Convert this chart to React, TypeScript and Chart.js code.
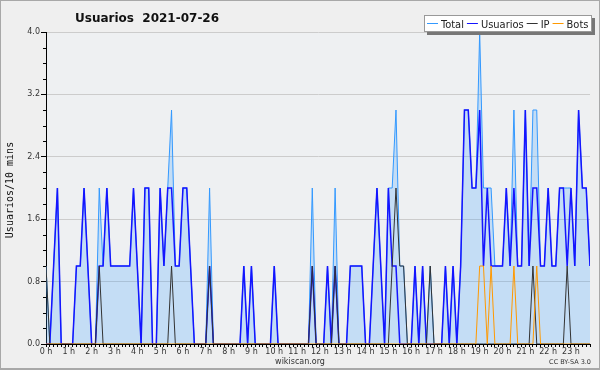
import React, { useEffect, useRef } from 'react';
import { Chart, registerables } from 'chart.js';

Chart.register(...registerables);

// 10-minute slots, 144 per day (index 0 = 00:00)
const usuarios = [
  0, 0, 1, 2, 0, 0, 0, 0, 1, 1, 2, 1,
  0, 0, 1, 1, 2, 1, 1, 1, 1, 1, 1, 2,
  1, 0, 2, 2, 0, 0, 2, 1, 2, 2, 1, 1,
  2, 2, 1, 0, 0, 0, 0, 1, 0, 0, 0, 0,
  0, 0, 0, 0, 1, 0, 1, 0, 0, 0, 0, 0,
  1, 0, 0, 0, 0, 0, 0, 0, 0, 0, 1, 0,
  0, 0, 1, 0, 1, 0, 0, 0, 1, 1, 1, 1,
  0, 0, 1, 2, 1, 0, 2, 1, 1, 0, 0, 0,
  0, 1, 0, 1, 0, 0, 0, 0, 0, 1, 0, 1,
  0, 1, 3, 3, 2, 2, 3, 1, 2, 1, 1, 1,
  1, 2, 1, 2, 1, 1, 3, 1, 2, 2, 1, 1,
  2, 1, 1, 2, 2, 1, 2, 1, 3, 2, 2, 1,
];

const ip = [
  1, 0, 0, 0, 0, 0, 0, 0, 0, 0, 0, 0,
  0, 0, 1, 0, 0, 0, 0, 0, 0, 0, 0, 0,
  0, 0, 0, 0, 0, 0, 0, 0, 0, 1, 0, 0,
  0, 0, 0, 0, 0, 0, 0, 1, 0, 0, 0, 0,
  0, 0, 0, 0, 0, 0, 0, 0, 0, 0, 0, 0,
  0, 0, 0, 0, 0, 0, 0, 0, 0, 0, 1, 0,
  0, 0, 0, 0, 1, 0, 0, 0, 0, 0, 0, 0,
  0, 0, 0, 0, 0, 0, 0, 1, 2, 1, 1, 0,
  0, 0, 0, 0, 0, 1, 0, 0, 0, 0, 0, 0,
  0, 0, 0, 0, 0, 0, 0, 0, 0, 0, 0, 0,
  0, 0, 0, 0, 0, 0, 0, 0, 1, 0, 0, 0,
  0, 0, 0, 0, 0, 1, 0, 0, 0, 0, 0, 0,
];

const bots = [
  0, 0, 0, 0, 0, 0, 0, 0, 0, 0, 0, 0,
  0, 0, 0, 0, 0, 0, 0, 0, 0, 0, 0, 0,
  0, 0, 0, 0, 0, 0, 0, 0, 0, 0, 0, 0,
  0, 0, 0, 0, 0, 0, 0, 0, 0, 0, 0, 0,
  0, 0, 0, 0, 0, 0, 0, 0, 0, 0, 0, 0,
  0, 0, 0, 0, 0, 0, 0, 0, 0, 0, 0, 0,
  0, 0, 0, 0, 0, 0, 0, 0, 0, 0, 0, 0,
  0, 0, 0, 0, 0, 0, 0, 0, 0, 0, 0, 0,
  0, 0, 0, 0, 0, 0, 0, 0, 0, 0, 0, 0,
  0, 0, 0, 0, 0, 0, 1, 1, 0, 1, 0, 0,
  0, 0, 0, 1, 0, 0, 0, 0, 0, 1, 0, 0,
  0, 0, 0, 0, 0, 0, 0, 0, 0, 0, 0, 0,
];

const total = [
  1, 0, 1, 2, 0, 0, 0, 0, 1, 1, 2, 1,
  0, 0, 2, 1, 2, 1, 1, 1, 1, 1, 1, 2,
  1, 0, 2, 2, 0, 0, 2, 1, 2, 3, 1, 1,
  2, 2, 1, 0, 0, 0, 0, 2, 0, 0, 0, 0,
  0, 0, 0, 0, 1, 0, 1, 0, 0, 0, 0, 0,
  1, 0, 0, 0, 0, 0, 0, 0, 0, 0, 2, 0,
  0, 0, 1, 0, 2, 0, 0, 0, 1, 1, 1, 1,
  0, 0, 1, 2, 1, 0, 2, 2, 3, 1, 1, 0,
  0, 1, 0, 1, 0, 1, 0, 0, 0, 1, 0, 1,
  0, 1, 3, 3, 2, 2, 4, 2, 2, 2, 1, 1,
  1, 2, 1, 3, 1, 1, 3, 1, 3, 3, 1, 1,
  2, 1, 1, 2, 2, 2, 2, 1, 3, 2, 2, 1,
];

const hourLabels = [
  '0 h', '1 h', '2 h', '3 h', '4 h', '5 h', '6 h', '7 h', '8 h', '9 h', '10 h', '11 h',
  '12 h', '13 h', '14 h', '15 h', '16 h', '17 h', '18 h', '19 h', '20 h', '21 h', '22 h', '23 h',
];
const yTicks = [0, 0.8, 1.6, 2.4, 3.2, 4.0];
const titleText = 'Usuarios  2021-07-26';
const yTitle = 'Usuarios/10 mins';

const seriesNames = ['Total', 'Usuarios', 'IP', 'Bots'];
const seriesColors = ['#3399ff', '#1414ff', '#333333', '#ff9900'];

const toPts = (arr: number[]) => arr.map((v, i) => ({ x: i, y: v }));

const decor = {
  id: 'decor',
  beforeDraw(chart: any) {
    const { ctx, chartArea: a } = chart;
    ctx.save();
    ctx.fillStyle = '#efefef';
    ctx.fillRect(0, 0, chart.width, chart.height);
    ctx.fillStyle = '#eef0f2';
    ctx.fillRect(a.left, a.top, a.right - a.left, a.bottom - a.top);
    ctx.restore();
  },
  afterDraw(chart: any) {
    const { ctx, chartArea: a } = chart;
    const ys = chart.scales.y;
    ctx.save();
    // minor y ticks
    ctx.strokeStyle = '#000';
    ctx.lineWidth = 1;
    for (let k = 1; k < 20; k++) {
      if (k % 4 === 0) continue;
      const y = Math.round(ys.getPixelForValue(k * 0.2)) + 0.5;
      ctx.beginPath();
      ctx.moveTo(a.left - 3, y);
      ctx.lineTo(a.left, y);
      ctx.stroke();
    }
    // title
    ctx.fillStyle = '#111';
    ctx.font = 'bold 12px "DejaVu Sans"';
    ctx.textBaseline = 'alphabetic';
    ctx.textAlign = 'left';
    ctx.fillText(titleText, 75, 22);
    // y title
    ctx.save();
    ctx.translate(13, 190);
    ctx.rotate(-Math.PI / 2);
    ctx.font = '10px "DejaVu Sans Mono"';
    ctx.textAlign = 'center';
    ctx.fillStyle = '#111';
    ctx.fillText(yTitle, 0, 0);
    ctx.restore();
    // legend (right aligned box)
    ctx.font = '11px "DejaVu Sans Condensed"';
    const lineLen = 11, gapLine = 3, gapItem = 3, padL = 3, padR = 4;
    let contentW = 0;
    chart.data.datasets.forEach((ds: any, i: number) => {
      contentW += lineLen + gapLine + ctx.measureText(ds.label).width;
      if (i < chart.data.datasets.length - 1) contentW += gapItem;
    });
    const lw = Math.round(contentW + padL + padR);
    const rightEdge = 592;
    const lx = rightEdge - lw, ly = 15, lh = 17;
    ctx.fillStyle = '#777';
    ctx.fillRect(lx + 3, ly + 3, lw, lh);
    ctx.fillStyle = '#ffffff';
    ctx.fillRect(lx, ly, lw, lh);
    ctx.strokeStyle = '#999';
    ctx.strokeRect(lx + 0.5, ly + 0.5, lw - 1, lh - 1);
    ctx.textAlign = 'left';
    let x = lx + padL;
    const midY = ly + 8;
    chart.data.datasets.forEach((ds: any) => {
      ctx.strokeStyle = ds.borderColor;
      ctx.lineWidth = 1;
      ctx.beginPath();
      ctx.moveTo(x, midY + 0.5);
      ctx.lineTo(x + lineLen, midY + 0.5);
      ctx.stroke();
      x += lineLen + gapLine;
      ctx.fillStyle = '#222';
      ctx.fillText(ds.label, x, ly + 13);
      x += ctx.measureText(ds.label).width + gapItem;
    });
    // footers
    ctx.fillStyle = '#333';
    ctx.font = '8px "DejaVu Sans"';
    ctx.textAlign = 'center';
    ctx.fillText('wikiscan.org', 300, 364);
    ctx.font = '6.5px "DejaVu Sans"';
    ctx.textAlign = 'right';
    ctx.fillText('CC BY-SA 3.0', 591, 364);
    // frame
    ctx.strokeStyle = '#a8a8a8';
    ctx.lineWidth = 2;
    ctx.strokeRect(0, 0, chart.width, chart.height - 1);
    ctx.restore();
  },
};

export default function App() {
  const ref = useRef<HTMLCanvasElement | null>(null);
  useEffect(() => {
    if (!ref.current) return;
    const mk = (i: number, arr: number[], extra: any) => ({
      label: seriesNames[i],
      data: toPts(arr),
      borderColor: seriesColors[i],
      borderWidth: 1,
      pointRadius: 0,
      tension: 0,
      fill: false,
      ...extra,
    });
    const chart = new Chart(ref.current, {
      type: 'line',
      data: {
        datasets: [
          mk(0, total, { fill: 'origin', backgroundColor: 'rgba(51,153,255,0.22)', order: 4 }),
          mk(1, usuarios, { borderWidth: 1.5, order: 3 }),
          mk(2, ip, { order: 2 }),
          mk(3, bots, { order: 1 }),
        ],
      },
      options: {
        responsive: false,
        animation: false,
        layout: { padding: { left: 0, top: 32, right: 10, bottom: 10 } },
        plugins: {
          legend: { display: false },
          tooltip: { enabled: false },
          title: { display: false },
        },
        scales: {
          x: {
            type: 'linear',
            min: 0,
            max: 143,
            afterBuildTicks: (s: any) => {
              s.ticks = usuarios.map((_, i) => ({ value: i }));
            },
            afterFit: (s: any) => {
              s.height = 16;
            },
            ticks: {
              autoSkip: false,
              maxRotation: 0,
              minRotation: 0,
              padding: 0,
              color: '#333',
              font: { family: 'DejaVu Sans', size: 8 },
              callback: (v: any) => (Number(v) % 6 === 0 ? hourLabels[Number(v) / 6] : ''),
            },
            grid: { drawOnChartArea: false, drawTicks: true, tickLength: 3, tickColor: '#000' },
            border: { color: '#000', width: 1 },
          },
          y: {
            min: 0,
            max: 4,
            afterBuildTicks: (s: any) => {
              s.ticks = yTicks.map((v) => ({ value: v }));
            },
            afterFit: (s: any) => {
              s.width = 46;
            },
            ticks: {
              padding: 1,
              color: '#333',
              font: { family: 'DejaVu Sans', size: 8 },
              callback: (v: any) => Number(v).toFixed(1),
            },
            grid: { color: '#cccccc', tickColor: '#000', tickLength: 5 },
            border: { color: '#000', width: 1 },
          },
        },
      },
      plugins: [decor],
    } as any);
    return () => chart.destroy();
  }, []);
  return (
    <div style={{ position: 'absolute', left: 0, top: 0, width: 600, height: 370 }}>
      <canvas ref={ref} width={600} height={370} style={{ display: 'block' }} />
    </div>
  );
}
